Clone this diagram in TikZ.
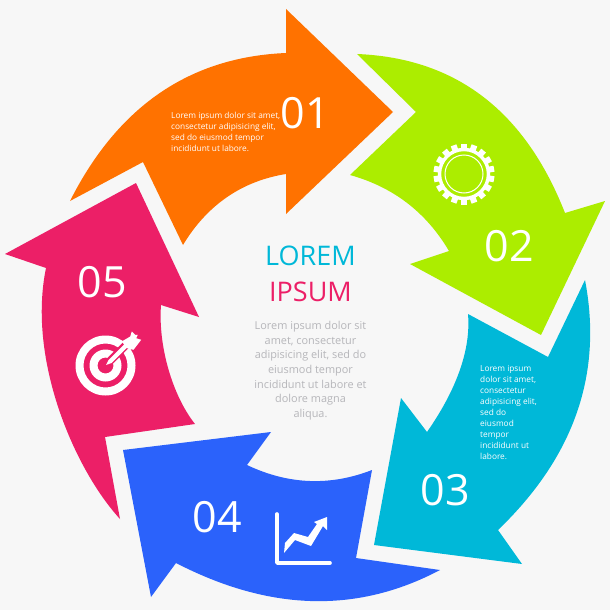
\documentclass[tikz,border=0pt]{standalone}
\usepackage{fontspec}
\setmainfont{Open Sans}
\definecolor{bgc}{HTML}{F7F7F7}
\definecolor{orangec}{HTML}{FF7200}
\definecolor{greenc}{HTML}{ACED00}
\definecolor{cyanc}{HTML}{00B8D8}
\definecolor{bluec}{HTML}{2B62FB}
\definecolor{pinkc}{HTML}{EC1F67}
\definecolor{greyc}{HTML}{B6B6BA}
\tikzset{
  numlabel/.style={text=white,font=\fontsize{43}{43}\selectfont,inner sep=0pt,anchor=center},
  smalltext/.style={text=white,font=\fontsize{8.3}{11}\selectfont,inner sep=0pt,align=left,anchor=north west},
  iconline/.style={draw=white,line width=#1},
  iconfill/.style={fill=white,draw=none}
}
\begin{document}
\begin{tikzpicture}[x=1pt,y=-1pt]
\useasboundingbox (0,0) rectangle (610,610);
\fill[bgc] (0,0) rectangle (610,610);
% 01
\fill[orangec] (393,112) -- (286,9) -- (286,53) .. controls (190,57) and (118,106) .. (70,201)
  -- (143,162) -- (183,245) .. controls (207,205) and (242,181) .. (286,174) -- (286,214) -- cycle;
% 02
\fill[greenc] (357,54) -- (416,112) -- (350,175) .. controls (393,187) and (426,212) .. (449,251)
  -- (410,264) -- (541,335) -- (605,201) -- (565,213) .. controls (525,111) and (456,58) .. (357,54) -- cycle;
% 03
\fill[cyanc] (585,280) -- (548,357) -- (468,314) .. controls (471,349) and (457,389) .. (427,432)
  -- (401,398) -- (374,545) -- (522,564) -- (498,530) .. controls (574,457) and (603,374) .. (585,280) -- cycle;
% 04
\fill[bluec] (440,570) -- (356,558) -- (372,470) .. controls (331,486) and (289,485) .. (247,465)
  -- (271,432) -- (123,450) -- (151,597) -- (176,563) .. controls (267,610) and (355,615) .. (440,570) -- cycle;
% 05
\fill[pinkc] (195,424) -- (105,437) -- (120,519) .. controls (75,470) and (27,360) .. (46,268)
  -- (5,254) -- (136,183) -- (199,317) -- (161,305) .. controls (158,345) and (172,395) .. (195,424) -- cycle;
% gear
\begin{scope}[shift={(464,174)}]
  \foreach \a in {0,20,...,340}
    \fill[white,rotate=\a] (-3,-24) rectangle (3,-30.5);
  \draw[iconline=3.4] (0,0) circle (24.5);
  \draw[iconline=1] (0,0) circle (19);
\end{scope}
% target
\begin{scope}[shift={(105.5,365.5)}]
  \fill[white,even odd rule] (0,0) circle (30) (0,0) circle (22);
  \fill[white,even odd rule] (0,0) circle (16) (0,0) circle (8);
  \draw[pinkc,line width=8] (3,-3) -- (21,-21);
  \fill[white] (0.5,-0.5) -- (3,-5.5) -- (19,-21.5) -- (22,-18.5) -- (6,-2.5) -- cycle;
  \fill[white] (16.3,-24) -- (24.7,-29) -- (26.3,-34) -- (29.7,-30.7) -- (32.3,-30.7) -- (30.7,-27.3)
    -- (35.7,-25.7) -- (28,-15.7) -- (21.3,-17.3) -- cycle;
\end{scope}
% chart
\draw[iconline=3.6,line cap=round,line join=round] (277,514) -- (277,563) -- (330,563);
\fill[iconfill] (284,553) -- (285,543) -- (294,533) -- (308,537) -- (317,524) -- (314,522)
  -- (327,517) -- (327,530) -- (323,526) -- (311,546) -- (295,540) -- cycle;
% labels
\node[numlabel] (n1) at (305.5,113) {01};
\node[numlabel] (n2) at (509,246) {02};
\node[numlabel] (n3) at (445,490) {03};
\node[numlabel] (n4) at (217,517) {04};
\node[numlabel] (n5) at (102,282) {05};
\node[smalltext] (t1) at (171,112) {Lorem ipsum dolor sit amet,\\consectetur adipisicing elit,\\sed do eiusmod tempor\\incididunt ut labore.};
\node[smalltext] (t3) at (480,365) {Lorem ipsum\\dolor sit amet,\\consectetur\\adipisicing elit,\\sed do\\eiusmod\\tempor\\incididunt ut\\labore.};
\node[text=cyanc,font=\fontsize{27}{27}\selectfont,inner sep=0pt] (title1) at (310.5,256) {LOREM};
\node[text=pinkc,font=\fontsize{27}{27}\selectfont,inner sep=0pt] (title2) at (310.5,292) {IPSUM};
\node[text=greyc,font=\fontsize{10.9}{14.7}\selectfont,inner sep=0pt,align=center,anchor=north] (body) at (310.5,321)
 {Lorem ipsum dolor sit\\amet, consectetur\\adipisicing elit, sed do\\eiusmod tempor\\incididunt ut labore et\\dolore magna\\aliqua.};
\end{tikzpicture}
\end{document}
